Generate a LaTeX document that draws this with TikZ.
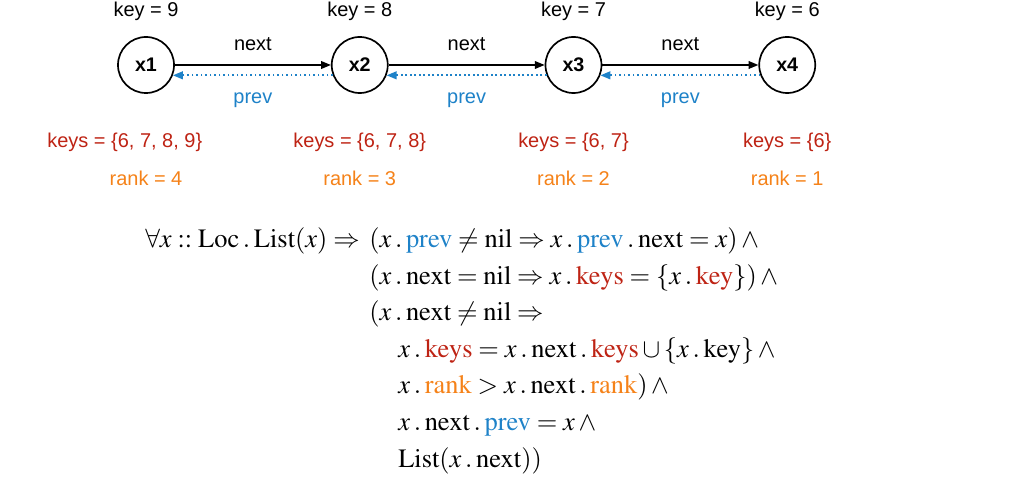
\documentclass[tikz,border=0pt]{standalone}
\usepackage{mathptmx}
\usepackage[no-math]{fontspec}
\newfontfamily\lblfont{Liberation Sans}
\usetikzlibrary{arrows.meta, positioning}
\definecolor{keysred}{RGB}{190,35,20}
\definecolor{rankorange}{RGB}{245,130,25}
\definecolor{prevblue}{RGB}{30,130,200}
\newcommand{\fld}[2]{\mathbin{.}\textcolor{#1}{\mathrm{#2}}}

\begin{document}
\begin{tikzpicture}[x=0.025cm, y=-0.025cm,
    elem/.style={circle, draw, line width=1.2pt, minimum size=1.4cm, inner sep=0pt, font=\lblfont\bfseries\fontsize{14}{16}\selectfont},
    lbl/.style={inner sep=1pt, font=\lblfont\fontsize{14.2}{16}\selectfont},
    nextarr/.style={line width=1pt, -{Triangle[length=7pt, width=5.5pt]}},
    prevarr/.style={prevblue, line width=1.2pt, dotted, -{Triangle[length=7pt, width=5.5pt]}},
    fline/.style={anchor=base west, inner sep=0pt, font=\fontsize{18.8}{22}\selectfont}]
    \useasboundingbox (0,0) rectangle (1013,478);

    % the list
    \node[elem] (x1) at (146,65) {x1};
    \node[elem, right=3.9cm of x1] (x2) {x2};
    \node[elem, right=3.9cm of x2] (x3) {x3};
    \node[elem, right=3.9cm of x3] (x4) {x4};

    \node[lbl, above=0.34cm of x1] (k1) {key = 9};
    \node[lbl, above=0.34cm of x2] (k2) {key = 8};
    \node[lbl, above=0.34cm of x3] (k3) {key = 7};
    \node[lbl, above=0.34cm of x4] (k4) {key = 6};

    \draw[nextarr] (x1) -- node[lbl, above=9pt] {next} (x2);
    \draw[nextarr] (x2) -- node[lbl, above=9pt] {next} (x3);
    \draw[nextarr] (x3) -- node[lbl, above=9pt] {next} (x4);
    \draw[prevarr] (x2.201) -- node[lbl, below=10.5pt, text=prevblue] {prev} (x1.-21);
    \draw[prevarr] (x3.201) -- node[lbl, below=10.5pt, text=prevblue] {prev} (x2.-21);
    \draw[prevarr] (x4.201) -- node[lbl, below=10.5pt, text=prevblue] {prev} (x3.-21);

    \node[lbl, text=keysred, below=0.94cm of x1, xshift=-0.53cm] (ks1) {keys = \{6, 7, 8, 9\}};
    \node[lbl, text=keysred, below=0.94cm of x2] (ks2) {keys = \{6, 7, 8\}};
    \node[lbl, text=keysred, below=0.94cm of x3] (ks3) {keys = \{6, 7\}};
    \node[lbl, text=keysred, below=0.94cm of x4] (ks4) {keys = \{6\}};

    \node[lbl, text=rankorange, below=0.4cm of ks1.south -| x1] (r1) {rank = 4};
    \node[lbl, text=rankorange, below=0.4cm of ks2] (r2) {rank = 3};
    \node[lbl, text=rankorange, below=0.4cm of ks3] (r3) {rank = 2};
    \node[lbl, text=rankorange, below=0.4cm of ks4] (r4) {rank = 1};

    % the invariant
    \node[fline] (f0) at (145,248) {$\forall x \mathrel{::} \mathrm{Loc}\mathbin{.}\mathrm{List}(x) \Rightarrow$};
    \node[fline] (f1) at (369,248) {$(x\fld{prevblue}{prev} \neq \mathrm{nil} \Rightarrow x\fld{prevblue}{prev}\fld{black}{next} = x) \wedge{}$};
    \node[fline] (f2) at (369,284.5) {$(x\fld{black}{next} = \mathrm{nil} \Rightarrow x\fld{keysred}{keys} = \{x\fld{keysred}{key}\}) \wedge{}$};
    \node[fline] (f3) at (369,321) {$(x\fld{black}{next} \neq \mathrm{nil} \Rightarrow$};
    \node[fline] (f4) at (398,357.5) {$x\fld{keysred}{keys} = x\fld{black}{next}\fld{keysred}{keys} \cup \{x\fld{black}{key}\} \wedge{}$};
    \node[fline] (f5) at (398,394) {$x\fld{rankorange}{rank} > x\fld{black}{next}\fld{rankorange}{rank}) \wedge{}$};
    \node[fline] (f6) at (398,430.5) {$x\fld{black}{next}\fld{prevblue}{prev} = x \wedge{}$};
    \node[fline] (f7) at (398,467) {$\mathrm{List}(x\fld{black}{next}))$};
\end{tikzpicture}
\end{document}
